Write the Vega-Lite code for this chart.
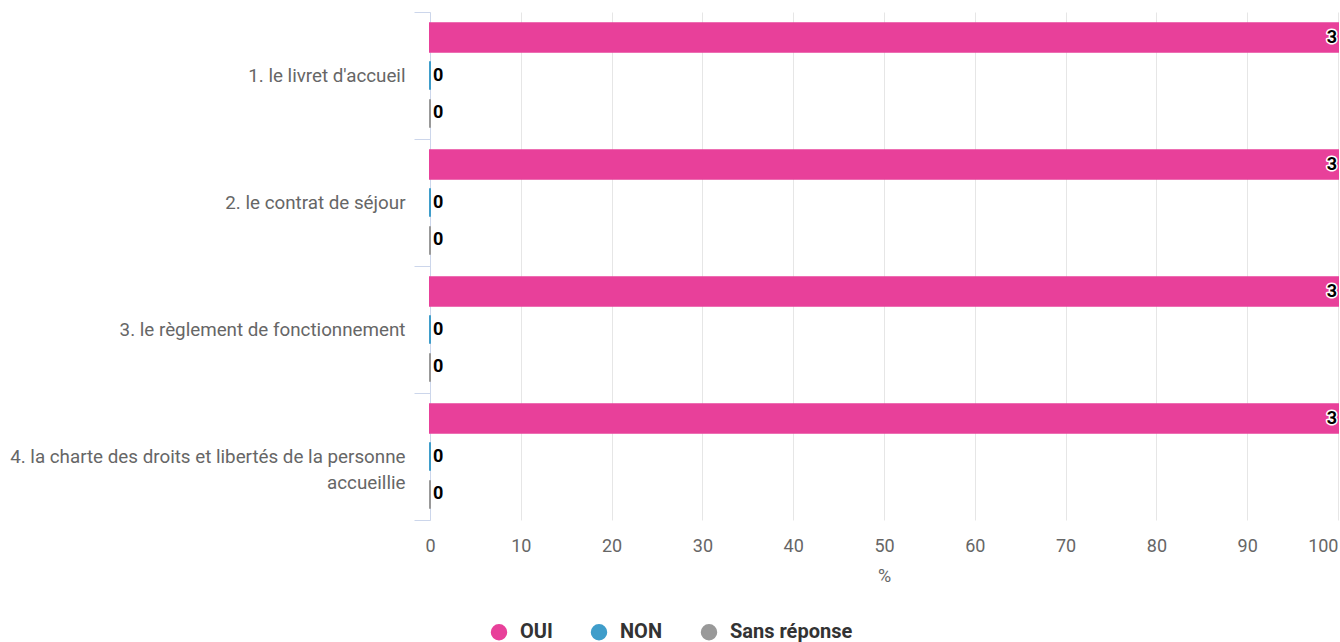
{
  "$schema": "https://vega.github.io/schema/vega-lite/v6.json",
  "width": 908,
  "height": 508,
  "autosize": {"type": "none"},
  "padding": {"left": 430, "top": 12, "right": 2, "bottom": 122},
  "config": {"font": "Roboto", "view": {"stroke": null}},
  "data": {
    "values": [
      {"category": "1. le livret d'accueil", "series": "OUI", "pct": 100, "count": 3},
      {"category": "1. le livret d'accueil", "series": "NON", "pct": 0, "count": 0},
      {"category": "1. le livret d'accueil", "series": "Sans réponse", "pct": 0, "count": 0},
      {"category": "2. le contrat de séjour", "series": "OUI", "pct": 100, "count": 3},
      {"category": "2. le contrat de séjour", "series": "NON", "pct": 0, "count": 0},
      {"category": "2. le contrat de séjour", "series": "Sans réponse", "pct": 0, "count": 0},
      {"category": "3. le règlement de fonctionnement", "series": "OUI", "pct": 100, "count": 3},
      {"category": "3. le règlement de fonctionnement", "series": "NON", "pct": 0, "count": 0},
      {"category": "3. le règlement de fonctionnement", "series": "Sans réponse", "pct": 0, "count": 0},
      {"category": "4. la charte des droits et libertés de la personne accueillie", "series": "OUI", "pct": 100, "count": 3},
      {"category": "4. la charte des droits et libertés de la personne accueillie", "series": "NON", "pct": 0, "count": 0},
      {"category": "4. la charte des droits et libertés de la personne accueillie", "series": "Sans réponse", "pct": 0, "count": 0}
    ]
  },
  "encoding": {
    "y": {
      "field": "category",
      "type": "nominal",
      "sort": null,
      "scale": {"paddingInner": 0, "paddingOuter": 0},
      "axis": {
        "title": null,
        "grid": false,
        "domainColor": "#ccd6eb",
        "tickColor": "#ccd6eb",
        "tickSize": 16,
        "tickBand": "extent",
        "labelPadding": 9,
        "labelFontSize": 18.8,
        "labelColor": "#666666",
        "labelLimit": 600,
        "labelLineHeight": 26,
        "labelExpr": "datum.value == '4. la charte des droits et libertés de la personne accueillie' ? ['4. la charte des droits et libertés de la personne', 'accueillie'] : datum.value"
      }
    },
    "yOffset": {
      "field": "series",
      "sort": ["OUI", "NON", "Sans réponse"],
      "scale": {"paddingInner": 0.25, "paddingOuter": 0.3}
    },
    "x": {
      "field": "pct",
      "type": "quantitative",
      "scale": {"domain": [0, 100]},
      "axis": {
        "title": "%",
        "tickCount": 10,
        "grid": true,
        "gridColor": "#e6e6e6",
        "domain": false,
        "ticks": false,
        "labelFlush": false,
        "labelAlign": {"condition": {"test": "datum.value == 100", "value": "right"}, "value": "center"},
        "labelPadding": 17,
        "labelFontSize": 18,
        "labelColor": "#666666",
        "titleFontSize": 18,
        "titleColor": "#666666",
        "titleFontWeight": "normal",
        "titlePadding": 12
      }
    }
  },
  "layer": [
    {
      "mark": {"type": "bar", "strokeWidth": 2},
      "encoding": {
        "color": {
          "field": "series",
          "type": "nominal",
          "sort": ["OUI", "NON", "Sans réponse"],
          "scale": {"domain": ["OUI", "NON", "Sans réponse"], "range": ["#e8409a", "#3f9dca", "#999999"]},
          "legend": {
            "title": null,
            "orient": "none",
            "legendX": 59,
            "legendY": 610,
            "direction": "horizontal",
            "symbolType": "circle",
            "symbolSize": 225,
            "symbolOpacity": 1,
            "labelFontSize": 20,
            "labelFontWeight": "bold",
            "labelColor": "#333333",
            "columnPadding": 35,
            "labelOffset": 11
          }
        },
        "stroke": {
          "field": "series",
          "type": "nominal",
          "scale": {"domain": ["OUI", "NON", "Sans réponse"], "range": ["#e8409a", "#3f9dca", "#999999"]},
          "legend": null
        }
      }
    },
    {
      "transform": [{"filter": "datum.pct > 0"}],
      "mark": {"type": "text", "align": "right", "baseline": "middle", "dx": -1, "fontWeight": "bold", "fontSize": 18, "stroke": "white", "strokeWidth": 3, "strokeJoin": "round", "fill": "white"},
      "encoding": {"text": {"field": "count", "type": "quantitative"}}
    },
    {
      "transform": [{"filter": "datum.pct > 0"}],
      "mark": {"type": "text", "align": "right", "baseline": "middle", "dx": -1, "fontWeight": "bold", "fontSize": 18, "fill": "black"},
      "encoding": {"text": {"field": "count", "type": "quantitative"}}
    },
    {
      "transform": [{"filter": "datum.pct == 0"}],
      "mark": {"type": "text", "align": "left", "baseline": "middle", "dx": 3, "fontWeight": "bold", "fontSize": 18, "fill": "black"},
      "encoding": {"text": {"field": "count", "type": "quantitative"}}
    }
  ]
}
